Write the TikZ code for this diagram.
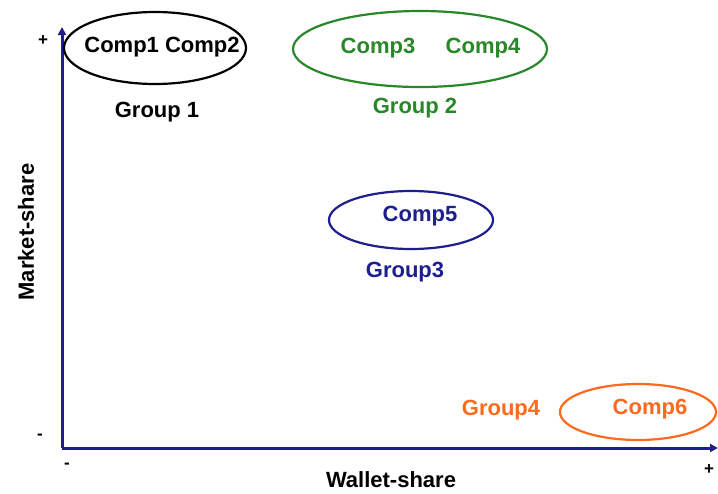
\documentclass[tikz,border=0pt]{standalone}
\usepackage{fontspec}
\setmainfont{Liberation Sans}
\usetikzlibrary{arrows.meta,shapes.geometric}
\definecolor{axisblue}{RGB}{30,30,140}
\definecolor{grpgreen}{RGB}{40,135,40}
\definecolor{grporange}{RGB}{255,105,30}
\tikzset{
  lbl/.style={font=\fontsize{22}{23}\selectfont\bfseries, inner sep=0pt},
  sign/.style={font=\fontsize{17}{17}\selectfont\bfseries, inner sep=0pt},
  grp/.style={ellipse, line width=2.2pt, inner sep=0pt},
  axis/.style={line width=3pt, axisblue, -{Triangle[length=8pt,width=8pt]}}
}
\begin{document}
\begin{tikzpicture}[x=1pt,y=-1pt]
\useasboundingbox (0,0) rectangle (718,493);
% axes
\coordinate (O) at (62,448);
\coordinate (ytop) at (62,27);
\coordinate (xend) at (718,448);
\draw[axis] (O) -- (ytop);
\draw[axis] (O) -- (xend);
\node[sign] (yplus) at (43,41) {+};
\node[sign] (yminus) at (40,437) {-};
\node[sign] (xminus) at (67,466) {-};
\node[sign] (xplus) at (709,470) {+};
\node[lbl, rotate=90] (ylab) at (26,232) {Market-share};
\node[lbl] (xlab) at (391,480) {Wallet-share};
% group 1
\node[grp, draw=black, minimum width=182pt, minimum height=72pt] (g1) at (155,48) {};
\node[lbl] (c12) at (162,47) {Comp1 Comp2};
\node[lbl] (g1l) at (157,112) {Group 1};
% group 2
\node[grp, draw=grpgreen, minimum width=254pt, minimum height=76pt] (g2) at (420,49) {};
\node[lbl, text=grpgreen] (c3) at (378,48) {Comp3};
\node[lbl, text=grpgreen] (c4) at (483,48) {Comp4};
\node[lbl, text=grpgreen] (g2l) at (415,108) {Group 2};
% group 3
\node[grp, draw=axisblue, minimum width=164pt, minimum height=58pt] (g3) at (411,220) {};
\node[lbl, text=axisblue] (c5) at (420,216) {Comp5};
\node[lbl, text=axisblue] (g3l) at (405,272) {Group3};
% group 4
\node[grp, draw=grporange, minimum width=156pt, minimum height=56pt] (g4) at (638,412) {};
\node[lbl, text=grporange] (c6) at (650,409) {Comp6};
\node[lbl, text=grporange] (g4l) at (501,410) {Group4};
\end{tikzpicture}
\end{document}
